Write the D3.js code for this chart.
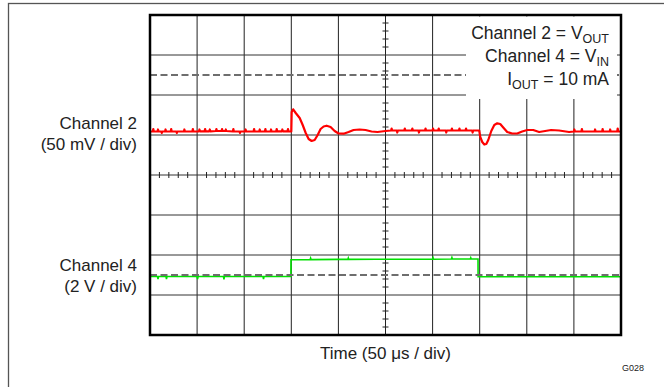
<!DOCTYPE html>
<html><head><meta charset="utf-8">
<script src="https://cdn.jsdelivr.net/npm/d3@7"></script>
<style>html,body{margin:0;padding:0;background:#fff;}svg{display:block;font-family:"Liberation Sans",Arial,sans-serif;}</style>
</head><body>
<script>
// ---- data ----
const timeDomain = [0, 500];            // µs (10 div x 50 µs)
const timeTicks = [0,50,100,150,200,250,300,350,400,450,500];
const divTicks = [-4,-3,-2,-1,0,1,2,3,4];
const ch2Time = [0,3,3.5,4,8,8.5,9,12,12.5,13,16,16.5,17,22,22.5,23,28,28.5,29,36,36.5,37,45,45.5,46,52,52.5,53,58,58.5,59,63,63.5,64,70,70.5,71,76,76.5,77,80,80.5,81,88,88.5,89,95,95.5,96,101,101.5,102,110,110.5,111,116,116.5,117,122,122.5,123,128,128.5,129,134,134.5,135,140,140.5,141,146,146.5,147,
  150.0,150.4,152.0,154.7,158.9,162.1,165.3,168.4,171.6,174.8,178.0,181.1,184.3,187.5,191.7,196.0,200.2,205.5,210.8,216.1,222.5,228.8,235.2,241.5,
  250,256,256.5,257,262,262.5,263,270,270.5,271,278,278.5,279,285,285.5,286,292,292.5,293,300,300.5,301,306,306.5,307,314,314.5,315,320,320.5,321,328,328.5,329,335,335.5,336,342,342.5,343,349.5,
  350.6,352.7,354.9,357.0,359.1,362.3,365.5,368.6,371.8,375.0,379.2,384.5,389.8,395.1,400.4,406.8,413.1,419.5,425.8,434.3,444.9,
  450,450.5,451,458,458.5,459,466,472,472.5,473,480,480.5,481,488,488.5,489,496,496.5,497,500];
const ch2Value = [4.4,4.4,7.5,4.4,4.4,6.9,4.4,4.4,2.5,4.4,4.4,6.9,4.4,4.4,7.5,4.4,4.4,2.5,4.4,4.4,6.9,4.4,4.4,7.5,4.4,4.6,6.9,4.6,4.6,7.5,4.6,4.6,6.9,4.6,5.0,7.5,5.0,5.0,7.5,5.0,5.0,6.9,5.0,4.4,7.5,4.4,4.4,2.5,4.4,4.4,6.9,4.4,4.4,7.5,4.4,4.4,6.9,4.4,4.4,7.5,4.4,4.4,6.9,4.4,4.6,7.5,4.6,4.6,6.9,4.6,4.6,7.5,4.6,
  4.4,28.75,32.1,27.5,21.3,12.5,2.5,-5,-7.5,-6.3,0,7.5,10.6,11.6,10,5,1.9,1.6,3.75,6.25,6.9,6.25,4.4,3.75,
  5.0,5.6,8.1,5.6,5.6,3.1,5.6,5.6,8.1,5.6,5.6,8.1,5.6,5.6,3.1,5.6,5.6,8.1,5.6,5.6,8.1,5.6,5.6,8.1,5.6,5.6,3.1,5.6,5.6,8.1,5.6,5.6,8.1,5.6,5.6,8.1,5.6,5.6,3.1,5.6,5.6,
  -2.5,-8.75,-11.9,-11.25,-6.25,5,12.5,14.6,13.75,9.4,3.75,1.9,1.9,4.4,6.25,6.25,3.75,5,6.25,5.6,3.75,
  4.4,6.9,4.4,4.4,7.5,4.4,4.4,4.4,6.9,4.4,4.4,7.5,4.4,4.4,6.9,4.4,4.4,8.1,4.4,4.4];   // mV
const ch4Time = [0,8,8.5,9,17,17.5,18,50,50.5,51,78,78.5,79,100,120,120.5,121,149.6,149.7,170,170.5,171,200,210,210.5,211,240,270,300,300.5,301,320,320.5,321,340,340.5,341,348.2,348.3,500];
const ch4Value = [-0.075,-0.075,-0.2,-0.075,-0.075,-0.2,-0.075,-0.075,-0.2,-0.075,-0.075,-0.22,-0.075,-0.075,-0.075,-0.2,-0.075,-0.075,0.76,0.77,0.84,0.77,0.78,0.78,0.85,0.78,0.79,0.79,0.79,0.86,0.79,0.8,0.87,0.8,0.8,0.86,0.8,0.8,-0.085,-0.085]; // V
const ch2Scale = 50;  // mV/div
const ch4Scale = 2;   // V/div

// ---- layout ----
const W = 664, H = 387;
const L = 150, R = 621, T = 15, B = 335;
const ch2Pos = 1, ch4Pos = -2.5;       // division offsets of trace zero
const ch2Marker = 2.5, ch4Marker = -2.5;

const svg = d3.select("body").append("svg").attr("width", W).attr("height", H);
svg.append("rect").attr("width", W).attr("height", H).attr("fill", "#fff");
// outer frame
svg.append("rect").attr("x", 8.5).attr("y", 3.5).attr("width", 720).attr("height", 420)
  .attr("fill", "none").attr("stroke", "#555").attr("stroke-width", 1.3);

const x = d3.scaleLinear().domain(timeDomain).range([L, R]);
const y = d3.scaleLinear().domain([-4, 4]).range([B, T]);

const g = svg.append("g");
// grid
g.selectAll("line.vg").data(timeTicks.slice(1, -1)).join("line")
  .attr("x1", d => x(d)).attr("x2", d => x(d)).attr("y1", T).attr("y2", B)
  .attr("stroke", "#222").attr("stroke-width", 1);
g.selectAll("line.hg").data(divTicks.slice(1, -1)).join("line")
  .attr("y1", d => y(d)).attr("y2", d => y(d)).attr("x1", L).attr("x2", R)
  .attr("stroke", "#333").attr("stroke-width", 1);
// center axis minor ticks
const xc = x(250), yc = y(0);
const xMinor = d3.range(0, 500.01, 10).filter(d => d % 50 !== 0);
const yMinor = d3.range(-4, 4.001, 0.2).filter(d => Math.abs(d - Math.round(d)) > 1e-6);
g.selectAll("line.xm").data(xMinor).join("line")
  .attr("x1", d => x(d)).attr("x2", d => x(d)).attr("y1", yc - 3).attr("y2", yc + 3)
  .attr("stroke", "#222").attr("stroke-width", 1);
g.selectAll("line.ym").data(yMinor).join("line")
  .attr("y1", d => y(d)).attr("y2", d => y(d)).attr("x1", xc - 3).attr("x2", xc + 3)
  .attr("stroke", "#222").attr("stroke-width", 1);

// traces
const line = d3.line().x(d => x(d[0])).y(d => y(d[1]));
const ch2Data = ch2Time.map((t, i) => [t, ch2Pos + ch2Value[i] / ch2Scale]);
const ch4Data = ch4Time.map((t, i) => [t, ch4Pos + ch4Value[i] / ch4Scale]);
g.append("path").attr("d", line(ch2Data)).attr("fill", "none")
  .attr("stroke", "#ff0000").attr("stroke-width", 2.2).attr("stroke-linejoin", "round");
g.append("path").attr("d", line(ch4Data)).attr("fill", "none")
  .attr("stroke", "#00e000").attr("stroke-width", 1.6);

// marker dashed lines
g.selectAll("line.mk").data([ch2Marker, ch4Marker]).join("line")
  .attr("x1", L).attr("x2", R).attr("y1", d => y(d)).attr("y2", d => y(d))
  .attr("stroke", "#6e6e6e").attr("stroke-width", 2).attr("stroke-dasharray", "7,3.5");

// legend box
svg.append("rect").attr("x", 466).attr("y", T + 1.5).attr("width", 151).attr("height", 82.5).attr("fill", "#fff");
const leg = svg.append("g").attr("font-size", 17.5).attr("fill", "#222").attr("text-anchor", "end");
const t1 = leg.append("text").attr("x", 609).attr("y", 39);
t1.append("tspan").text("Channel 2 = V");
t1.append("tspan").attr("dy", 4).attr("font-size", 12.5).text("OUT");
const t2 = leg.append("text").attr("x", 609).attr("y", 62);
t2.append("tspan").text("Channel 4 = V");
t2.append("tspan").attr("dy", 4).attr("font-size", 12.5).text("IN");
const t3 = leg.append("text").attr("x", 609).attr("y", 85);
t3.append("tspan").text("I");
t3.append("tspan").attr("dy", 4).attr("font-size", 12.5).text("OUT");
t3.append("tspan").attr("dy", -4).text(" = 10 mA");

// plot border
svg.append("rect").attr("x", L).attr("y", T).attr("width", R - L).attr("height", B - T)
  .attr("fill", "none").attr("stroke", "#000").attr("stroke-width", 2.5);

// left labels
const lab = svg.append("g").attr("font-size", 17).attr("fill", "#222").attr("text-anchor", "end");
lab.append("text").attr("x", 137).attr("y", 129).text("Channel 2");
lab.append("text").attr("x", 137).attr("y", 150).text("(50 mV / div)");
lab.append("text").attr("x", 137).attr("y", 271).text("Channel 4");
lab.append("text").attr("x", 137).attr("y", 292).text("(2 V / div)");

// x label
svg.append("text").attr("x", (L + R) / 2).attr("y", 359).attr("text-anchor", "middle")
  .attr("font-size", 17).attr("fill", "#222").text("Time (50 μs / div)");
svg.append("text").attr("x", 644).attr("y", 371).attr("text-anchor", "end")
  .attr("font-size", 9).attr("fill", "#222").text("G028");
</script>
</body></html>
